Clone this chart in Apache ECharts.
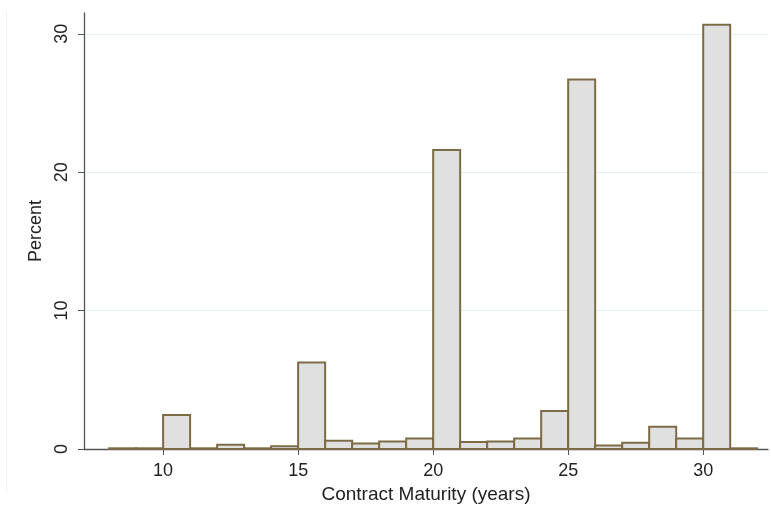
<!DOCTYPE html>
<html>
<head>
<meta charset="utf-8">
<style>
  html, body { margin: 0; padding: 0; background: #fff; }
  #chart { width: 771px; height: 505px; }
</style>
<script src="https://cdn.jsdelivr.net/npm/echarts@6.0.0/dist/echarts.min.js"></script>
</head>
<body>
<div id="chart"></div>
<script>
// histogram bins: start of each 1-year bin and its percent
const binStarts = [8, 9, 10, 11, 12, 13, 14, 15, 16, 17, 18, 19, 20, 21, 22, 23, 24, 25, 26, 27, 28, 29, 30, 31];
const percents = [0.05, 0.05, 2.45, 0.05, 0.3, 0.05, 0.2, 6.25, 0.6, 0.4, 0.55, 0.75, 21.6, 0.5, 0.55, 0.75, 2.75, 26.7, 0.25, 0.45, 1.6, 0.75, 30.65, 0.05];
const binWidth = 1;
const xTicks = [10, 15, 20, 25, 30];
const yTicks = [0, 10, 20, 30];
const yGrid = [10, 20, 30];

const textColor = "#222";
const fontFamily = "Liberation Sans, Arial, sans-serif";

const chart = echarts.init(document.getElementById("chart"), null, { renderer: "canvas" });

const data = binStarts.map((start, i) => [start, percents[i]]);

chart.setOption({
    animation: false,
    grid: { left: 84, right: 3, top: 13, bottom: 56, outerBoundsMode: "none", containLabel: false },
    graphic: [{
        type: "line",
        shape: { x1: 6.5, y1: 10, x2: 6.5, y2: 492 },
        style: { stroke: "#f2f2f2", lineWidth: 1 }
    }],
    xAxis: {
        type: "value",
        min: 7.07,
        max: 32.4,
        name: "Contract Maturity (years)",
        nameLocation: "middle",
        nameGap: 33,
        nameTextStyle: { color: textColor, fontSize: 19, fontFamily },
        axisLine: { lineStyle: { color: "#555", width: 1.3 } },
        axisTick: { show: true, length: 6, lineStyle: { color: "#555" }, customValues: xTicks },
        axisLabel: { color: textColor, fontSize: 18, fontFamily, margin: 13, customValues: xTicks },
        splitLine: { show: false }
    },
    yAxis: {
        type: "value",
        min: 0,
        max: 31.5,
        name: "Percent",
        nameLocation: "middle",
        nameRotate: 90,
        nameGap: 36,
        nameTextStyle: { color: textColor, fontSize: 18, fontFamily },
        axisLine: { show: true, lineStyle: { color: "#555", width: 1.3 } },
        axisTick: { show: true, length: 6, lineStyle: { color: "#555" }, customValues: yTicks },
        axisLabel: { color: textColor, fontSize: 18, fontFamily, rotate: 90, margin: 13, customValues: yTicks },
        splitLine: { show: false }
    },
    series: [{
        type: "custom",
        data,
        renderItem(params, api) {
            const start = api.value(0);
            const top = api.coord([start, api.value(1)]);
            const bottom = api.coord([start + binWidth, 0]);
            return {
                type: "rect",
                shape: { x: top[0], y: top[1], width: bottom[0] - top[0], height: bottom[1] - top[1] },
                style: { fill: "#e0e0e0", stroke: "#7d6b45", lineWidth: 2 }
            };
        },
        markLine: {
            silent: true,
            symbol: "none",
            label: { show: false },
            lineStyle: { color: "#e6f0f2", width: 1, type: "solid" },
            data: yGrid.map((v) => ({ yAxis: v })),
            z: 0
        },
        z: 2
    }]
});
</script>
</body>
</html>
